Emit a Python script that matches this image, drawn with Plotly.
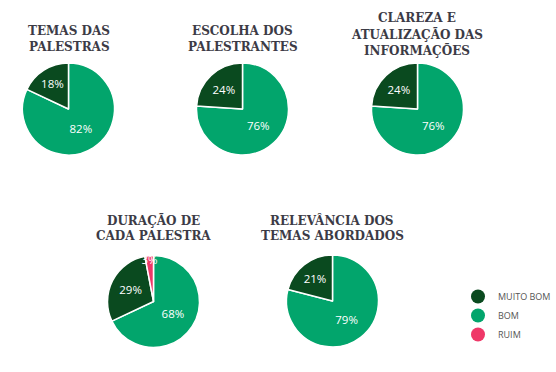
import plotly.graph_objects as go

# categories in clockwise order starting at 12 o'clock
pie_order = ["BOM", "MUITO BOM", "RUIM"]
legend_order = ["MUITO BOM", "BOM", "RUIM"]
cat_colors = {"MUITO BOM": "#0a4a1f", "BOM": "#02a56c", "RUIM": "#ef3868"}

title_lines = [
    ["TEMAS DAS", "PALESTRAS"],
    ["ESCOLHA DOS", "PALESTRANTES"],
    ["CLAREZA E", "ATUALIZAÇÃO DAS", "INFORMAÇÕES"],
    ["DURAÇÃO DE", "CADA PALESTRA"],
    ["RELEVÂNCIA DOS", "TEMAS ABORDADOS"],
]
# values: BOM, MUITO BOM, RUIM (%)
bom = [82, 76, 76, 68, 79]
muito_bom = [18, 24, 24, 29, 21]
ruim = [0, 0, 0, 3, 0]

W, H = 556, 372
centers = [(68.5, 109), (242.5, 109), (417.5, 109), (153.5, 301.5), (332.5, 301)]
R = 46
title_y = [[31, 46.5], [31, 46.5], [18.5, 34.5, 50.5], [220.5, 236], [220.5, 236]]
title_x = [69, 242.5, 417, 153.5, 332.5]

fig = go.Figure()
for i, (cx, cy) in enumerate(centers):
    vals = [bom[i], muito_bom[i], ruim[i]]
    labs = [c for c, v in zip(pie_order, vals) if v > 0]
    vv = [v for v in vals if v > 0]
    cc = [cat_colors[c] for c in labs]
    fig.add_trace(go.Pie(
        labels=labs, values=vv, sort=False, direction="clockwise", rotation=0,
        marker=dict(colors=cc, line=dict(color="white", width=1.5)),
        texttemplate="%{value}%", textposition="inside",
        insidetextorientation="horizontal",
        textfont=dict(color="white", size=11.5, family="Open Sans"),
        domain=dict(x=[(cx - R) / W, (cx + R) / W], y=[1 - (cy + R) / H, 1 - (cy - R) / H]),
        showlegend=False, hoverinfo="label+percent",
    ))

for cat in legend_order:
    fig.add_trace(go.Scatter(
        x=[None], y=[None], mode="markers", name=cat,
        marker=dict(color=cat_colors[cat], size=14, symbol="circle"),
    ))

for lines, tx, tys in zip(title_lines, title_x, title_y):
    for line, ty in zip(lines, tys):
        fig.add_annotation(
            text="<b>" + line + "</b>", x=tx / W, y=1 - ty / H, xref="paper", yref="paper",
            xanchor="center", yanchor="middle", showarrow=False,
            font=dict(family="DejaVu Serif", size=12, color="#3c3b46"),
        )

fig.update_layout(
    width=W, height=H, margin=dict(l=0, r=0, t=0, b=0),
    paper_bgcolor="white", plot_bgcolor="white",
    uniformtext=dict(minsize=11.5, mode="show"),
    xaxis=dict(visible=False), yaxis=dict(visible=False),
    legend=dict(x=1, y=1 - 282 / H, xanchor="right", yanchor="top",
                font=dict(family="Open Sans", size=9, color="#555555"),
                itemsizing="trace", itemwidth=30, tracegroupgap=0,
                bgcolor="rgba(0,0,0,0)"),
)
fig.write_html("out.html", config={"displayModeBar": False},
               post_script="document.body.style.margin='0';")
